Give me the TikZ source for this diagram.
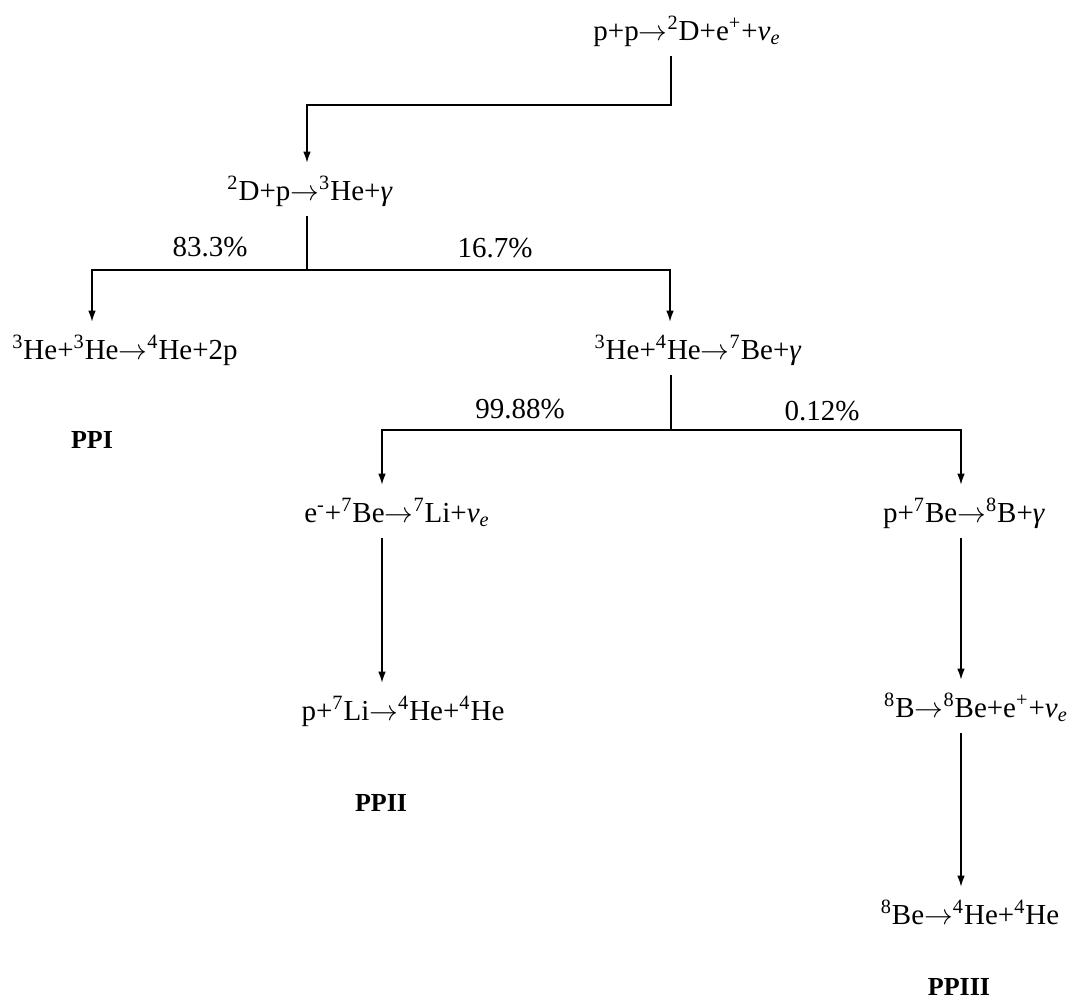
\documentclass[tikz,border=0pt]{standalone}
\usepackage{fontspec}
\setmainfont{Liberation Serif}
\usetikzlibrary{arrows.meta}
\newcommand{\iso}[2]{\textsuperscript{#1}#2}
\newcommand{\nue}{\textit{ν}\textsubscript{\textit{e}}}
\newcommand{\goes}{$\rightarrow$}
\tikzset{
  reac/.style={inner xsep=2pt, inner ysep=4pt, text height=11pt, text depth=4pt,
               font=\fontsize{14.5}{17}\selectfont},
  pct/.style={font=\fontsize{14.5}{17}\selectfont},
  chain/.style={font=\fontsize{13}{16}\selectfont\bfseries},
  link/.style={line width=0.6pt},
  flow/.style={line width=0.6pt, shorten >=3.5pt, -{Latex[length=5.5pt,width=3.8pt]}}
}
\begin{document}
\begin{tikzpicture}[x=0.5pt,y=-0.5pt]
              \fill[white] (0,0) rectangle (1076,1001);
              % reactions
              \node[reac] (pp)  at (687,33)  {p+p\goes\iso{2}{D}+e\textsuperscript{+}+\nue};
              \node[reac] (dp)  at (310,193) {\iso{2}{D}+p\goes\iso{3}{He}+\textit{γ}};
              \node[reac] (he33) at (125,352) {\iso{3}{He}+\iso{3}{He}\goes\iso{4}{He}+2p};
              \node[reac] (he34) at (698,352) {\iso{3}{He}+\iso{4}{He}\goes\iso{7}{Be}+\textit{γ}};
              \node[reac] (ebe) at (397,515) {e\textsuperscript{-}+\iso{7}{Be}\goes\iso{7}{Li}+\nue};
              \node[reac] (pbe) at (964,515) {p+\iso{7}{Be}\goes\iso{8}{B}+\textit{γ}};
              \node[reac] (pli) at (403,713) {p+\iso{7}{Li}\goes\iso{4}{He}+\iso{4}{He}};
              \node[reac] (bb)  at (976,710) {\iso{8}{B}\goes\iso{8}{Be}+e\textsuperscript{+}+\nue};
              \node[reac] (bebe) at (970,917) {\iso{8}{Be}\goes\iso{4}{He}+\iso{4}{He}};
              % chain names
              \node[chain] (ppi)   at (92,440)  {PPI};
              \node[chain] (ppii)  at (381,803) {PPII};
              \node[chain] (ppiii) at (959,987) {PPIII};
              % branching ratios
              \node[pct] (pa) at (210,247) {83.3\%};
              \node[pct] (pb) at (495,248) {16.7\%};
              \node[pct] (pc) at (520,409) {99.88\%};
              \node[pct] (pd) at (822,411) {0.12\%};
              % split points
              \coordinate (b0) at (671,105);
              \coordinate (b1) at (307,270);
              \coordinate (l1) at (92,270);
              \coordinate (r1) at (670,270);
              \coordinate (b2) at (671,430);
              \coordinate (l2) at (382,430);
              \coordinate (r2) at (961,430);
              \draw[flow] (pp.south -| b0) -- (b0) -| (dp.north -| b1);
              \draw[link] (dp.south -| b1) -- (b1);
              \draw[flow] (b1) -- (l1) -- (l1 |- he33.north);
              \draw[flow] (b1) -- (r1) -- (r1 |- he34.north);
              \draw[link] (he34.south -| b2) -- (b2);
              \draw[flow] (b2) -- (l2) -- (l2 |- ebe.north);
              \draw[flow] (b2) -- (r2) -- (r2 |- pbe.north);
              \draw[flow] (ebe.south -| l2) -- (pli.north -| l2);
              \draw[flow] (pbe.south -| r2) -- (bb.north -| r2);
              \draw[flow] (bb.south -| r2) -- (bebe.north -| r2);
            \end{tikzpicture}
\end{document}
